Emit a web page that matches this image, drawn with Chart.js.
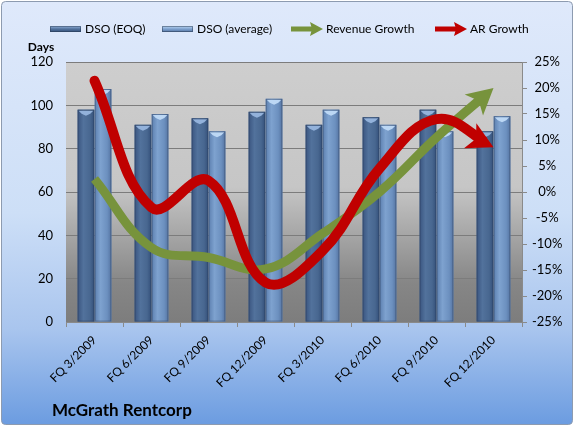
<!DOCTYPE html>
<html lang="en">
<head>
    <meta charset="UTF-8">
    <title>McGrath Rentcorp - DSO vs Growth</title>
    <script src="https://cdn.jsdelivr.net/npm/chart.js"></script>
    <style>
        body {
            margin: 0;
            background: #fff;
        }
        .chart-container {
            width: 575px;
            height: 427px;
        }
    </style>
</head>
<body>
    <div class="chart-container">
        <canvas id="dsoChart" width="575" height="427"></canvas>
    </div>

    <script>
        // Values
        const quarters = ['FQ 3/2009', 'FQ 6/2009', 'FQ 9/2009', 'FQ 12/2009',
                          'FQ 3/2010', 'FQ 6/2010', 'FQ 9/2010', 'FQ 12/2010'];
        const dsoEoq = [98, 91, 94, 97, 91, 94.5, 98, 88];
        const dsoAverage = [107.5, 96, 88, 103, 98, 91, 88, 95];
        const revenueGrowth = [2.5, -10.7, -12.6, -14.8, -8, 0, 10.5, 20];
        const arGrowth = [21.4, -3, 2.2, -17.4, -11.3, 4.5, 14, 8.6];
        const dayTicks = [0, 20, 40, 60, 80, 100, 120];
        const growthTicks = [-25, -20, -15, -10, -5, 0, 5, 10, 15, 20, 25];

        const FONT = 'Lato, "Open Sans", sans-serif';

        // background of the whole picture and of the plot area
        const backgroundPlugin = {
            id: 'backgrounds',
            beforeDraw(chart) {
                const { ctx, width, height, chartArea } = chart;
                ctx.save();
                ctx.fillStyle = '#fff';
                ctx.fillRect(0, 0, width, height);

                const outer = ctx.createLinearGradient(0, 0, 0, height);
                outer.addColorStop(0, '#dfe9fb');
                outer.addColorStop(0.5, '#cddff7');
                outer.addColorStop(0.77, '#a9c5ee');
                outer.addColorStop(1, '#6a9be0');
                ctx.fillStyle = outer;
                ctx.beginPath();
                ctx.roundRect(1.5, 1.5, width - 4, height - 4, 4);
                ctx.fill();
                ctx.strokeStyle = '#8d9bb0';
                ctx.lineWidth = 1;
                ctx.stroke();

                const { left, top, right, bottom } = chartArea;
                const plot = ctx.createLinearGradient(0, top, 0, bottom);
                plot.addColorStop(0, '#cecece');
                plot.addColorStop(0.48, '#c6c6c6');
                plot.addColorStop(0.7, '#a0a0a0');
                plot.addColorStop(0.85, '#868686');
                plot.addColorStop(1, '#7d7d7d');
                ctx.fillStyle = plot;
                ctx.fillRect(left, top, right - left, bottom - top);
                ctx.restore();
            }
        };

        // cylinder-like shading over the bars
        const barShading = {
            id: 'barShading',
            afterDatasetDraw(chart, args) {
                const ds = chart.data.datasets[args.index];
                if (!ds.shade) return;
                const ctx = chart.ctx;
                ctx.save();
                args.meta.data.forEach(bar => {
                    const l = bar.x - bar.width / 2;
                    const r = bar.x + bar.width / 2;
                    const g = ctx.createLinearGradient(l, 0, r, 0);
                    g.addColorStop(0, ds.shade[0]);
                    g.addColorStop(0.35, ds.shade[1]);
                    g.addColorStop(0.75, ds.shade[2]);
                    g.addColorStop(1, ds.shade[3]);
                    ctx.fillStyle = g;
                    ctx.fillRect(l, bar.y, r - l, bar.base - bar.y);
                    // bevelled top
                    ctx.fillStyle = ds.shade[4];
                    ctx.beginPath();
                    ctx.moveTo(l + 1, bar.y + 1);
                    ctx.lineTo(r - 1, bar.y + 1);
                    ctx.lineTo(r - 4, bar.y + 4);
                    ctx.lineTo(bar.x, bar.y + 6);
                    ctx.lineTo(l + 4, bar.y + 4);
                    ctx.closePath();
                    ctx.fill();
                    ctx.strokeStyle = 'rgba(40,55,80,0.35)';
                    ctx.strokeRect(l + 0.5, bar.y + 0.5, r - l - 1, bar.base - bar.y - 1);
                });
                ctx.restore();
            }
        };

        // arrow heads at the end of the growth lines
        const arrowHeads = {
            id: 'arrowHeads',
            beforeDatasetDraw(chart, args) {
                const ds = chart.data.datasets[args.index];
                if (!ds.arrowHead) return;
                const end = args.meta.data[args.meta.data.length - 1];
                const ctx = chart.ctx;
                ctx.save();
                ctx.beginPath();
                ctx.rect(0, 0, chart.width, chart.height);
                ctx.arc(end.x, end.y, 11, 0, Math.PI * 2);
                ctx.clip('evenodd');
            },
            afterDatasetDraw(chart, args) {
                const ds = chart.data.datasets[args.index];
                if (!ds.arrowHead) return;
                const ctx = chart.ctx;
                ctx.restore();
                const pts = args.meta.data;
                const end = pts[pts.length - 1];
                let dx = end.x - end.cp1x;
                let dy = end.y - end.cp1y;
                if (!isFinite(dx) || Math.hypot(dx, dy) < 0.5) {
                    dx = end.x - pts[pts.length - 2].x;
                    dy = end.y - pts[pts.length - 2].y;
                }
                const len = Math.hypot(dx, dy);
                const ux = dx / len, uy = dy / len;
                const L = 26, W = 14;
                const bx = end.x - ux * L, by = end.y - uy * L;
                ctx.save();
                ctx.fillStyle = ds.borderColor;
                ctx.beginPath();
                ctx.moveTo(end.x, end.y);
                ctx.lineTo(bx - uy * W, by + ux * W);
                ctx.lineTo(end.x - ux * L * 0.75, end.y - uy * L * 0.75);
                ctx.lineTo(bx + uy * W, by - ux * W);
                ctx.closePath();
                ctx.fill();
                ctx.restore();
            }
        };

        // legend, "Days" label and chart title
        const labelsPlugin = {
            id: 'labels',
            afterDraw(chart) {
                const ctx = chart.ctx;
                const ds = chart.data.datasets;
                const iconX = [50, 162, 291, 435];
                ctx.save();
                ctx.font = '12px ' + FONT;
                ctx.textBaseline = 'middle';
                ctx.fillStyle = '#000';
                ds.forEach((d, i) => {
                    const x = iconX[i], y = 29;
                    if (d.type === 'bar') {
                        const g = ctx.createLinearGradient(0, y - 3, 0, y + 3);
                        g.addColorStop(0, d.shade[4]);
                        g.addColorStop(0.5, d.shade[1]);
                        g.addColorStop(1, d.shade[3]);
                        ctx.fillStyle = g;
                        ctx.fillRect(x, y - 3, 31, 6);
                        ctx.strokeStyle = 'rgba(40,55,80,0.5)';
                        ctx.strokeRect(x + 0.5, y - 2.5, 30, 5);
                    } else {
                        ctx.fillStyle = d.borderColor;
                        ctx.fillRect(x, y - 2.5, 22, 5);
                        ctx.beginPath();
                        ctx.moveTo(x + 32, y);
                        ctx.lineTo(x + 19, y - 7);
                        ctx.lineTo(x + 21, y);
                        ctx.lineTo(x + 19, y + 7);
                        ctx.closePath();
                        ctx.fill();
                    }
                    ctx.fillStyle = '#000';
                    ctx.textAlign = 'left';
                    ctx.fillText(d.label, x + 35, y);
                });

                ctx.font = 'bold 12px ' + FONT;
                ctx.textAlign = 'center';
                ctx.fillText('Days', 41, 47);

                ctx.font = 'bold 17px ' + FONT;
                ctx.textAlign = 'left';
                ctx.textBaseline = 'alphabetic';
                ctx.fillText('McGrath Rentcorp', 52, 416);
                ctx.restore();
            }
        };

        const ctx = document.getElementById('dsoChart').getContext('2d');
        new Chart(ctx, {
            data: {
                labels: quarters,
                datasets: [
                    {
                        type: 'bar',
                        label: 'DSO (EOQ)',
                        data: dsoEoq,
                        yAxisID: 'y',
                        order: 3,
                        backgroundColor: '#4a6991',
                        shade: ['#3a5580', '#52729c', '#486790', '#34507a', '#93b2db'],
                        categoryPercentage: 0.6,
                        barPercentage: 0.97
                    },
                    {
                        type: 'bar',
                        label: 'DSO (average)',
                        data: dsoAverage,
                        yAxisID: 'y',
                        order: 3,
                        backgroundColor: '#6f93c2',
                        shade: ['#5d80b0', '#7ea2cf', '#6c90bf', '#5574a2', '#bcd7f4'],
                        categoryPercentage: 0.6,
                        barPercentage: 0.97
                    },
                    {
                        type: 'line',
                        label: 'Revenue Growth',
                        data: revenueGrowth,
                        yAxisID: 'y1',
                        order: 2,
                        borderColor: '#77933c',
                        borderWidth: 9,
                        borderCapStyle: 'butt',
                        tension: 0.4,
                        pointRadius: 0,
                        arrowHead: true
                    },
                    {
                        type: 'line',
                        label: 'AR Growth',
                        data: arGrowth,
                        yAxisID: 'y1',
                        order: 1,
                        borderColor: '#c00000',
                        borderWidth: 10,
                        borderCapStyle: 'round',
                        tension: 0.4,
                        pointRadius: 0,
                        arrowHead: true
                    }
                ]
            },
            options: {
                responsive: false,
                animation: false,
                layout: { padding: { top: 62, left: 0, right: 0, bottom: 0 } },
                plugins: {
                    legend: { display: false },
                    tooltip: { enabled: false }
                },
                scales: {
                    x: {
                        offset: true,
                        grid: {
                            offset: true,
                            drawOnChartArea: false,
                            tickLength: 5,
                            color: '#8a8a8a'
                        },
                        border: { color: '#8a8a8a' },
                        ticks: {
                            maxRotation: 45,
                            minRotation: 45,
                            padding: 6,
                            color: '#000',
                            font: { family: FONT, size: 12 }
                        },
                        afterFit(scale) { scale.height = 105; }
                    },
                    y: {
                        position: 'left',
                        min: 0,
                        max: 120,
                        afterBuildTicks(scale) {
                            scale.ticks = dayTicks.map(v => ({ value: v }));
                        },
                        grid: { color: '#7c7c7c', drawTicks: false },
                        border: { display: false },
                        ticks: {
                            padding: 13,
                            color: '#000',
                            font: { family: FONT, size: 13 }
                        },
                        afterFit(scale) { scale.width = 66; }
                    },
                    y1: {
                        position: 'right',
                        min: -25,
                        max: 25,
                        afterBuildTicks(scale) {
                            scale.ticks = growthTicks.map(v => ({ value: v }));
                        },
                        grid: { drawOnChartArea: false, tickLength: 5, color: '#8a8a8a' },
                        border: { color: '#8a8a8a' },
                        ticks: {
                            padding: 5,
                            crossAlign: 'center',
                            color: '#000',
                            font: { family: FONT, size: 13 },
                            callback: v => v + '%'
                        },
                        afterFit(scale) { scale.width = 53; }
                    }
                }
            },
            plugins: [backgroundPlugin, barShading, arrowHeads, labelsPlugin]
        });
    </script>
</body>
</html>
